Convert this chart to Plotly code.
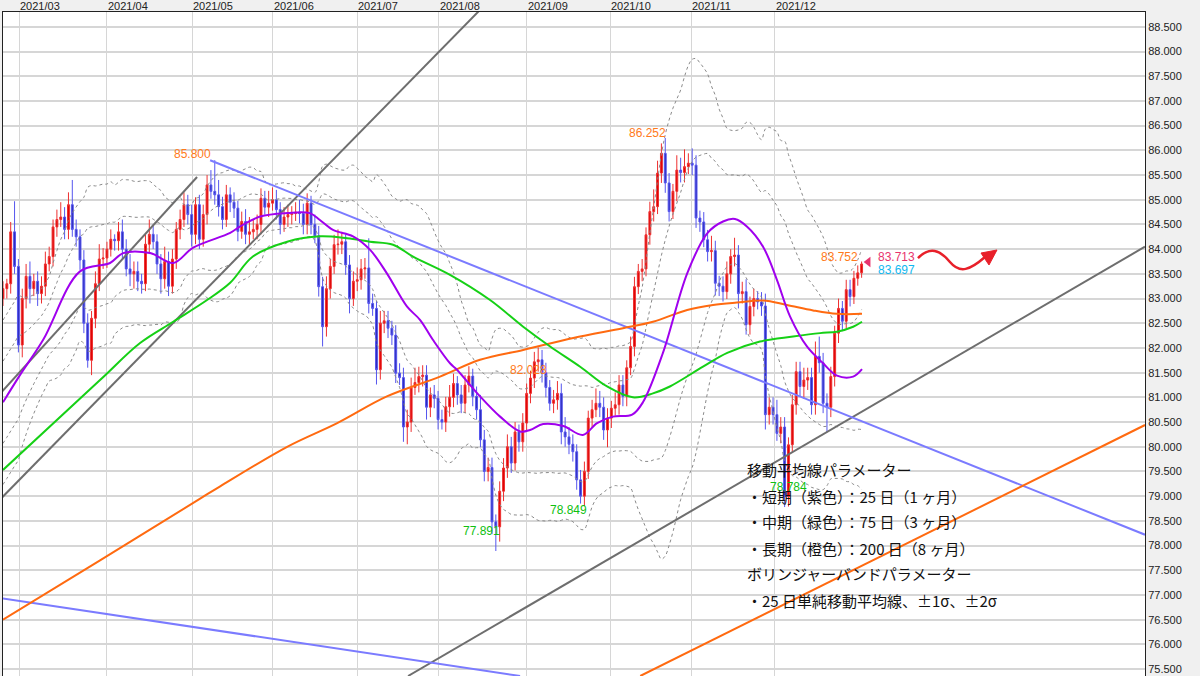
import numpy as np
import pandas as pd
import plotly.graph_objects as go

# ---------------- data (trading-day index) ----------------
closes = [
 83.20,83.30,84.35,83.65,82.06,83.00,83.45,83.20,83.35,83.10,83.25,83.70,83.85,84.45,84.60,84.65,84.40,84.90,84.40,84.25,
 83.78,82.50,81.75,82.60,83.30,83.80,83.82,84.00,84.20,84.17,84.35,84.00,83.60,83.50,83.55,83.35,83.30,84.10,84.30,84.15,
 83.70,83.40,83.75,83.25,83.80,84.40,84.60,84.90,84.70,84.30,84.90,84.20,84.70,85.30,85.17,85.10,84.86,84.60,85.10,84.95,
 84.83,84.36,84.56,84.30,84.35,84.40,84.50,85.03,84.85,84.93,85.00,84.80,84.50,84.65,84.70,84.72,84.75,84.72,84.50,84.93,
 84.50,84.27,83.24,82.43,83.20,83.65,84.09,84.10,84.15,83.68,83.00,83.35,83.38,83.60,83.62,82.90,82.80,81.56,82.50,82.55,
 82.40,82.26,81.49,81.40,80.40,80.50,81.20,81.30,81.42,81.45,80.80,81.05,80.98,80.55,80.50,80.81,81.00,81.28,81.05,80.88,
 81.25,81.43,81.02,80.75,80.14,79.50,79.58,78.48,78.38,79.10,79.57,80.00,79.67,80.30,80.10,80.48,81.08,81.39,81.72,81.76,
 81.50,81.20,80.88,80.95,81.08,80.30,80.20,80.05,79.90,79.33,79.00,79.50,80.58,80.75,80.88,80.80,80.34,80.58,80.78,80.85,
 81.25,81.02,81.60,82.03,83.24,83.55,83.60,84.29,84.76,84.86,85.54,85.94,85.34,84.76,85.17,85.60,85.55,85.67,85.74,85.70,
 84.63,84.55,84.19,83.95,83.97,83.31,83.25,83.14,83.50,83.85,83.88,83.10,83.14,82.47,82.84,83.00,82.93,82.85,80.65,80.80,
 80.65,80.27,80.40,78.99,80.04,80.85,81.52,81.22,81.35,81.40,80.85,81.83,81.70,80.88,80.80,81.42,82.30,82.80,82.54,83.18,
 83.04,83.41,83.52,83.70]
first_open = 83.00
upper_wick = [
 .15,.1,.2,.62,.15,.2,.25,.3,.15,.2,.2,.25,.2,.15,.2,.3,.2,.25,.5,.2,
 .15,.2,.2,.15,.25,.3,.2,.15,.2,.1,.2,.25,.2,.3,.2,.2,.15,.2,.3,.2,
 .15,.2,.3,.2,.2,.15,.2,.25,.2,.2,.15,.2,.2,.2,.3,.63,.3,.2,.2,.15,
 .2,.15,.2,.25,.3,.2,.2,.2,.15,.25,.25,.2,.15,.2,.2,.15,.2,.25,.2,.2,
 .15,.2,.2,.2,.25,.15,.2,.3,.2,.15,.2,.2,.25,.2,.2,.6,.2,.15,.25,.2,
 .2,.15,.2,.2,.2,.25,.2,.3,.2,.2,.2,.15,.2,.15,.2,.2,.25,.2,.15,.2,
 .2,.2,.15,.2,.3,.2,.2,.2,.15,.2,.2,.25,.2,.2,.15,.2,.2,.15,.2,.25,
 .2,.2,.15,.2,.25,.2,.3,.2,.2,.15,.2,.2,.15,.2,.3,.25,.2,.2,.15,.25,
 .2,.2,.15,.2,.2,.15,.2,.15,.2,.35,.25,.2,.31,.2,.15,.3,.25,.35,.2,.3,
 .2,.15,.2,.2,.3,.2,.15,.2,.25,.15,.35,.2,.2,.25,.2,.2,.15,.2,.25,.2,
 .2,.3,.2,.2,.15,.2,.2,.2,.25,.2,.2,.3,.4,.2,.2,.2,.15,.2,.15,.2,
 .2,.15,.15,.05]
lower_wick = [
 .15,.2,.2,.15,.15,.25,.2,.3,.15,.25,.2,.2,.15,.2,.2,.15,.2,.2,.15,.2,
 .2,.2,.15,.3,.2,.15,.2,.2,.15,.2,.2,.2,.15,.25,.3,.2,.2,.15,.2,.15,
 .2,.3,.2,.2,.15,.2,.2,.15,.2,.25,.2,.2,.15,.2,.15,.2,.2,.2,.15,.2,
 .2,.2,.15,.2,.2,.15,.2,.2,.15,.2,.15,.2,.2,.15,.2,.2,.15,.2,.2,.2,
 .2,.15,.2,.4,.2,.2,.15,.2,.2,.2,.3,.15,.2,.2,.2,.2,.15,.3,.2,.2,
 .2,.2,.2,.15,.3,.35,.2,.15,.2,.2,.25,.2,.2,.2,.15,.2,.2,.2,.2,.2,
 .2,.15,.2,.2,.15,.2,.2,.25,.49,.3,.2,.2,.2,.15,.2,.2,.15,.2,.2,.2,
 .2,.2,.15,.2,.2,.25,.2,.2,.2,.2,.15,.2,.15,.2,.15,.2,.2,.35,.2,.15,
 .2,.2,.2,.15,.2,.15,.2,.15,.2,.2,.15,.2,.2,.2,.15,.2,.2,.2,.15,.2,
 .2,.2,.15,.2,.2,.25,.2,.2,.15,.2,.2,.3,.2,.2,.2,.2,.15,.2,.3,.2,
 .2,.15,.2,.21,.2,.15,.2,.2,.25,.2,.2,.2,.2,.2,.5,.2,.2,.2,.2,.15,
 .2,.15,.15,.1]

# moving averages (day, value)
ma25_day = [0,4.4,10.4,20,27.8,31.2,38.2,44.2,49.4,59,61.6,66.8,73.8,79.7,82.3,85.7,90.9,95.3,99.7,104.9,108.3,111.7,116.1,117.9,123.9,129.1,134.3,136.9,140.3,145.5,150.6,154.3,158.4,163.4,166.2,171.4,177.7,182.9,187,190.1,193.2,197.4,201,204.4,208.8,213,216.6,220.8,223.1]
ma25_val = [80.9,81.45,82.16,83.55,83.72,83.92,83.92,83.72,84.03,84.33,84.46,84.66,84.73,84.73,84.59,84.39,84.26,83.99,83.51,82.84,82.57,82.16,81.69,81.56,81.02,80.61,80.31,80.34,80.46,80.42,80.24,80.48,80.61,80.65,80.9,81.9,83.51,84.32,84.56,84.61,84.46,84.05,83.38,82.64,82.03,81.69,81.44,81.42,81.57]
ma75_day = [0,25.2,35.6,44.2,53,59,64.9,73.8,82.3,89.4,95.3,101.3,106.5,116.1,126.5,135.1,142.1,149.9,156.9,163.6,168.8,173.2,181.8,188.1,196.6,205.2,212.2,216.6,220.8,223.1]
ma75_val = [79.53,81.35,82.1,82.53,82.97,83.32,83.85,84.15,84.26,84.22,84.15,84.09,83.85,83.48,82.97,82.43,82.03,81.62,81.22,81.0,81.08,81.22,81.62,81.9,82.13,82.23,82.3,82.33,82.43,82.53]
ma200_day = [0,25.2,51.2,56.4,73.8,86.8,99.7,113.5,123.9,135.1,148.1,161,168.8,177.7,184.4,190.6,197.4,203.6,210.4,216.6,223.1]
ma200_val = [76.5,77.7,78.95,79.2,80.0,80.48,81.02,81.42,81.76,81.96,82.2,82.4,82.53,82.77,82.87,82.92,82.96,82.87,82.76,82.69,82.69]

month_day = [4.2,27,49.1,70.1,92,113.2,136,157.7,178.7,200.5]
month_lbl = ["2021/03","2021/04","2021/05","2021/06","2021/07","2021/08","2021/09","2021/10","2021/11","2021/12"]
y_ticks = [75.5 + 0.5*i for i in range(27)]

# trend lines (day, value) endpoints
gray_lines = [((-0.8,81.07),(50.4,85.46)), ((-0.8,78.93),(126.5,89.05)), ((105.2,75.36),(296.6,84.05))]
blue_lines = [((53.8,85.80),(296.6,78.22)), ((-0.8,76.94),(134.3,75.36))]
orange_lines = [((165.5,75.36),(296.6,80.44))]

# ---------------- build ----------------
n = len(closes)
days = np.arange(n)
c = np.array(closes)
o = np.concatenate([[first_open], c[:-1]])
h = np.maximum(o, c) + np.array(upper_wick[:n])
l = np.minimum(o, c) - np.array(lower_wick[:n])

fig = go.Figure()

mid = np.interp(days, ma25_day, ma25_val)
sd = pd.Series(c).rolling(25, min_periods=5).std().bfill().values
for k in (2, 1, -1, -2):
    fig.add_trace(go.Scatter(x=days, y=mid + k*sd, mode="lines",
                             line=dict(color="#8a8a8a", width=1, dash="dot", shape="spline")))

for (a, b) in gray_lines:
    fig.add_trace(go.Scatter(x=[a[0], b[0]], y=[a[1], b[1]], mode="lines", line=dict(color="#6e6e6e", width=2)))
for (a, b) in blue_lines:
    fig.add_trace(go.Scatter(x=[a[0], b[0]], y=[a[1], b[1]], mode="lines", line=dict(color="#7b7bff", width=2)))
for (a, b) in orange_lines:
    fig.add_trace(go.Scatter(x=[a[0], b[0]], y=[a[1], b[1]], mode="lines", line=dict(color="#ff6a10", width=2)))

fig.add_trace(go.Scatter(x=ma200_day, y=ma200_val, mode="lines", line=dict(color="#ff6a10", width=2, shape="spline")))
fig.add_trace(go.Scatter(x=ma75_day, y=ma75_val, mode="lines", line=dict(color="#16d016", width=2, shape="spline")))
fig.add_trace(go.Scatter(x=ma25_day, y=ma25_val, mode="lines", line=dict(color="#a000ee", width=2, shape="spline")))

fig.add_trace(go.Candlestick(x=days, open=o, high=h, low=l, close=c, whiskerwidth=0,
    increasing=dict(line=dict(color="#ee3030", width=1), fillcolor="#dd0000"),
    decreasing=dict(line=dict(color="#5555ee", width=1), fillcolor="#2a2ab8")))

fig.add_trace(go.Scatter(x=[224.7], y=[83.74], mode="markers",
                         marker=dict(symbol="triangle-left", size=9, color="#e8336d")))

ann = [
    ("85.800", 54.5, 85.92, "right", "#ff7a1a"),
    ("86.252", 172.7, 86.36, "right", "#ff7a1a"),
    ("82.028", 141.8, 81.56, "right", "#ff7a1a"),
    ("83.752", 222.6, 83.84, "right", "#ff7a1a"),
    ("77.891", 124.4, 78.3, "center", "#10c010"),
    ("78.849", 146.8, 78.72, "center", "#10c010"),
    ("78.784", 204.0, 79.19, "center", "#10c010"),
    ("83.713", 226.8, 83.84, "left", "#e8336d"),
    ("83.697", 226.8, 83.58, "left", "#10b8f0"),
]
for t, x, y, xa, col in ann:
    fig.add_annotation(x=x, y=y, text=t, showarrow=False, xanchor=xa, yanchor="middle",
                       font=dict(family="Liberation Sans, Arial", size=12, color=col))

# month labels along the top edge, left-aligned at their gridlines
for d, t in zip(month_day, month_lbl):
    fig.add_annotation(x=d, xref="x", y=1, yref="paper", text=t, showarrow=False,
                       xanchor="left", yanchor="bottom", borderpad=0, yshift=-1,
                       font=dict(family="Liberation Sans, Arial", size=11, color="#222"))

notes = ["移動平均線パラメーター", "・短期（紫色）：25 日（1 ヶ月）", "・中期（緑色）：75 日（3 ヶ月）",
         "・長期（橙色）：200 日（8 ヶ月）", "ボリンジャーバンドパラメーター", "・25 日単純移動平均線、±1σ、±2σ"]
note_y = [79.53, 79.0, 78.48, 77.95, 77.43, 76.88]
for t, y in zip(notes, note_y):
    fig.add_annotation(x=192.7, y=y, text=t, showarrow=False, xanchor="left", yanchor="middle",
                       font=dict(family="Noto Sans CJK JP", size=15, color="#111111"))

# wavy red arrow (decoration, paper coords)
def P(px, py):
    return f"{(px-3)/1142:.4f},{1-(py-12)/664:.4f}"
wave = (f"M {P(918,258)} C {P(930,246)} {P(940,250)} {P(950,262)} "
        f"C {P(960,274)} {P(970,270)} {P(985,257)}")
fig.add_shape(type="path", path=wave, xref="paper", yref="paper",
              line=dict(color="#e8202a", width=2.5))
fig.add_shape(type="path", path=f"M {P(997,250)} L {P(981,253)} L {P(989,265)} Z",
              xref="paper", yref="paper", fillcolor="#e8202a", line=dict(color="#e8202a", width=1))

fig.update_layout(
    width=1200, height=676, showlegend=False,
    margin=dict(l=3, r=55, t=12, b=0),
    paper_bgcolor="#f0f0f0", plot_bgcolor="#ffffff",
    xaxis=dict(range=[0, 296.6], side="top", tickvals=month_day, showticklabels=False,
               ticks="", showgrid=True, gridcolor="#d6d6d6",
               showline=True, linecolor="#222", mirror=True, zeroline=False, automargin=False,
               rangeslider=dict(visible=False)),
    yaxis=dict(range=[75.36, 88.80], side="right", tickvals=y_ticks, tickformat=".3f",
               showgrid=True, gridcolor="#d6d6d6", gridwidth=1.5, showline=True, linecolor="#222",
               mirror=True, zeroline=False, ticks="", automargin=False,
               tickfont=dict(family="Liberation Sans, Arial", size=11, color="#222")),
)
fig.write_html("out.html", config={"displayModeBar": False},
               post_script="document.body.style.margin='0';")
